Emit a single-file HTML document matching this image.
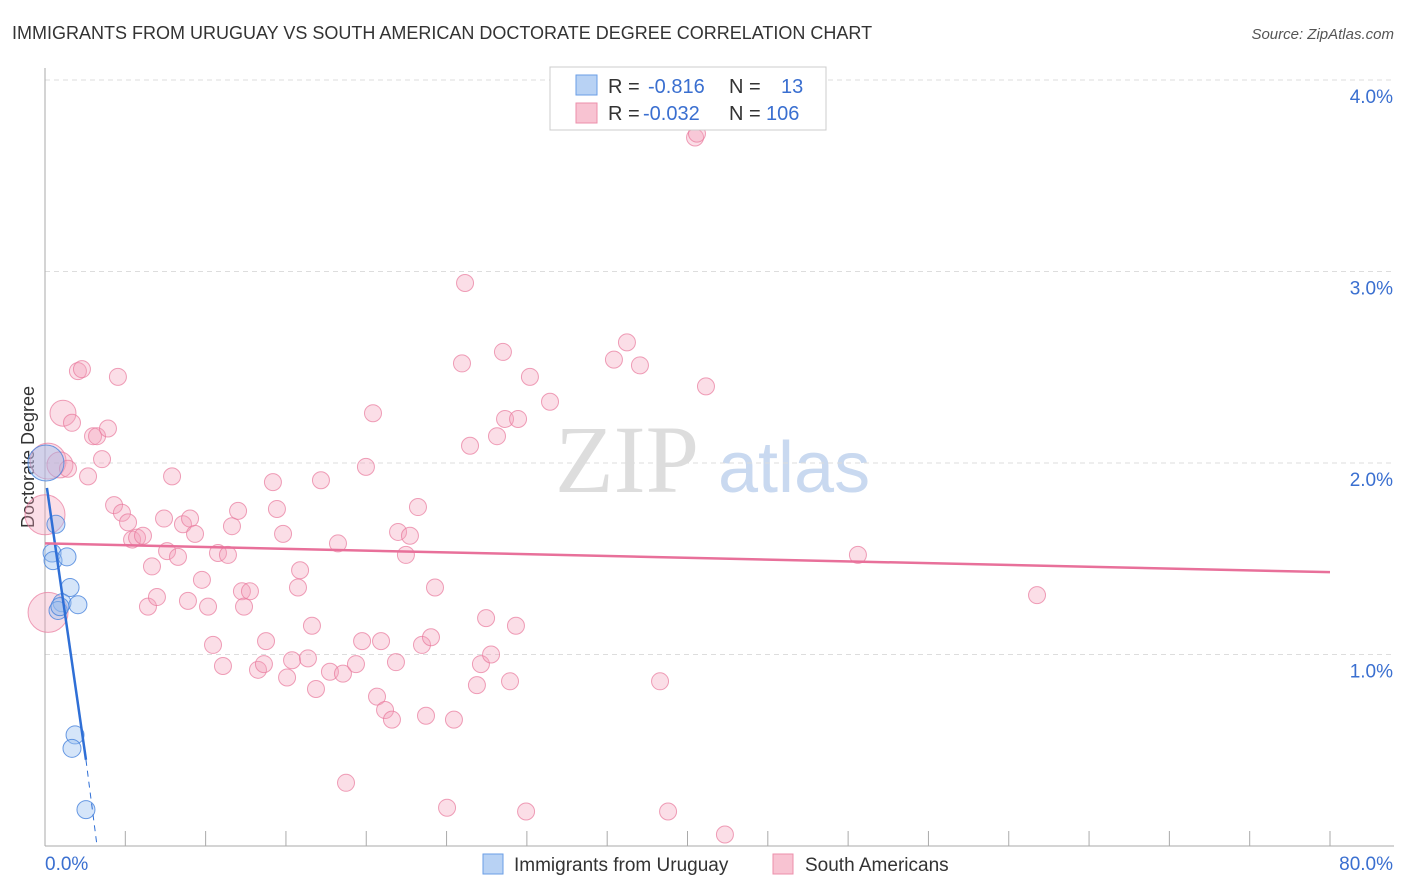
<!DOCTYPE html>
<html><head><meta charset="utf-8"><style>
body{margin:0;background:#fff;font-family:"Liberation Sans",sans-serif;}
#c{position:relative;width:1406px;height:892px;overflow:hidden;}
</style></head><body>
<div id="c">
<svg id="s" width="1406" height="892" xmlns="http://www.w3.org/2000/svg">
<text x="12" y="39" font-size="18" fill="#333">IMMIGRANTS FROM URUGUAY VS SOUTH AMERICAN DOCTORATE DEGREE CORRELATION CHART</text>
<text x="1394" y="39" font-size="15" fill="#555" text-anchor="end" font-style="italic">Source: ZipAtlas.com</text>
<text x="34" y="457" font-size="18" fill="#333" text-anchor="middle" transform="rotate(-90 34 457)">Doctorate Degree</text>
<text x="555" y="492" font-size="96" fill="#ddd" font-family="Liberation Serif,serif">ZIP</text>
<text x="718" y="492" font-size="72" fill="#c9d9f0">atlas</text>
<g id="grid"></g><g id="axes"></g><g id="pink"></g><g id="blue"></g><g id="trend"></g>
<g>
<rect x="550" y="67" width="276" height="63" fill="#fff" stroke="#ccc"/>
<rect x="576" y="75" width="21" height="20" fill="#b8d2f4" stroke="#6a9ee6"/>
<rect x="576" y="103" width="21" height="20" fill="#f8c3d2" stroke="#ec8fab"/>
<text x="608" y="93" font-size="20" fill="#333">R = <tspan fill="#3a6fd0" x="648">-0.816</tspan><tspan x="729" fill="#333">N =</tspan><tspan x="781" fill="#3a6fd0">13</tspan></text>
<text x="608" y="120" font-size="20" fill="#333">R = <tspan fill="#3a6fd0" x="643">-0.032</tspan><tspan x="729" fill="#333">N =</tspan><tspan x="766" fill="#3a6fd0">106</tspan></text>
</g>
<g>
<rect x="483" y="854" width="20" height="20" fill="#b8d2f4" stroke="#6a9ee6"/>
<text x="514" y="871" font-size="19" fill="#333">Immigrants from Uruguay</text>
<rect x="773" y="854" width="20" height="20" fill="#f8c3d2" stroke="#ec8fab"/>
<text x="805" y="871" font-size="19" fill="#333">South Americans</text>
</g>
</svg></div>
<script>
const xTicks=[0,10,20,30,40,50,60,70,80];
const yTicks=[1,2,3,4];
const yTickLabels=["1.0%","2.0%","3.0%","4.0%"];
const xEndLabels=["0.0%","80.0%"];
const blueX=[0.06,0.68,0.44,0.50,1.37,1.56,1.06,0.81,0.93,2.05,1.87,1.68,2.55];
const blueY=[2.00,1.68,1.53,1.49,1.51,1.35,1.27,1.23,1.25,1.26,0.58,0.51,0.19];
const blueR=[18,9,9,9,9,9,9,9,9,9,9,9,9];
const pinkX=[0.19,0.0,0.19,1.12,0.93,1.43,1.68,2.05,2.30,4.54,2.99,3.24,3.92,3.55,2.68,4.30,4.79,5.17,5.42,5.73,6.10,6.66,6.41,6.97,7.41,7.60,7.91,8.28,8.59,9.03,9.34,9.77,8.90,10.15,10.46,10.77,11.39,11.08,11.64,12.02,12.26,12.76,12.39,13.76,13.26,13.63,14.19,14.44,14.82,15.07,15.38,15.88,15.75,16.37,16.62,16.87,17.18,17.74,18.24,18.55,18.74,19.36,19.74,19.98,20.42,20.67,20.92,21.17,21.60,21.85,21.98,22.47,22.72,23.22,23.47,23.72,24.03,24.28,25.03,25.46,25.96,26.15,26.46,26.89,27.14,27.46,27.77,28.14,28.51,28.64,28.95,29.32,29.45,29.95,30.19,31.44,35.42,36.23,37.04,38.29,38.79,41.15,42.33,40.47,40.59,50.61,61.76];
const pinkY=[2.01,1.73,1.22,2.26,1.99,1.97,2.21,2.48,2.49,2.45,2.14,2.14,2.18,2.02,1.93,1.78,1.74,1.69,1.60,1.61,1.62,1.46,1.25,1.30,1.71,1.54,1.93,1.51,1.68,1.71,1.63,1.39,1.28,1.25,1.05,1.53,1.52,0.94,1.67,1.75,1.33,1.33,1.25,1.07,0.92,0.95,1.90,1.76,1.63,0.88,0.97,1.44,1.35,0.98,1.15,0.82,1.91,0.91,1.58,0.90,0.33,0.95,1.07,1.98,2.26,0.78,1.07,0.71,0.66,0.96,1.64,1.52,1.62,1.77,1.05,0.68,1.09,1.35,0.20,0.66,2.52,2.94,2.09,0.84,0.95,1.19,1.00,2.14,2.58,2.23,0.86,1.15,2.23,0.18,2.45,2.32,2.54,2.63,2.51,0.86,0.18,2.40,0.06,3.70,3.72,1.52,1.31];
const pinkBig=[18,20,20,13,13];
const blueTrend=[[0.12,1.87],[2.55,0.45]];
const blueTrendExt=[[2.55,0.45],[3.24,0]];
const pinkTrend=[[0,1.58],[80,1.43]];

const NS="http://www.w3.org/2000/svg";
const X=v=>45+v/80*1285;
const Y=v=>846-v*191.5;
function mk(tag,attrs,parent){const e=document.createElementNS(NS,tag);for(const k in attrs)e.setAttribute(k,attrs[k]);document.getElementById(parent).appendChild(e);return e;}
yTicks.forEach((t,i)=>{
 const l=mk('line',{x1:45,x2:1394,y1:Y(t),y2:Y(t),stroke:'#ddd','stroke-dasharray':'5,4'},'grid');
 
 
 const tx=mk('text',{x:1393,y:Y(t)+23,'font-size':19,fill:'#3a6fd0','text-anchor':'end'},'grid');
 tx.textContent=yTickLabels[i];
 
 
});
const ax=mk('line',{x1:45,x2:45,y1:68,y2:846,stroke:'#aaa'},'axes');


const bx=mk('line',{x1:45,x2:1394,y1:846,y2:846,stroke:'#aaa'},'axes');


xTicks.concat([5,15,25,35,45,55,65,75]).forEach(t=>{
 if(t===0)return;
 const l=mk('line',{x1:X(t),x2:X(t),y1:831,y2:846,stroke:'#aaa'},'axes');
 
 
});
const xl0=mk('text',{x:45,y:870,'font-size':19,fill:'#3a6fd0'},'axes');
xl0.textContent=xEndLabels[0];


const xl1=mk('text',{x:1393,y:870,'font-size':19,fill:'#3a6fd0','text-anchor':'end'},'axes');
xl1.textContent=xEndLabels[1];


pinkX.forEach((v,i)=>{
 const c=mk('circle',{cx:X(v),cy:Y(pinkY[i]),r:pinkBig[i]||8.5,fill:'rgba(244,160,185,0.35)',stroke:'rgba(232,120,155,0.7)','stroke-width':1},'pink');
 
 
});
blueX.forEach((v,i)=>{
 const c=mk('circle',{cx:X(v),cy:Y(blueY[i]),r:blueR[i],fill:'rgba(150,190,240,0.4)',stroke:'rgba(70,130,220,0.8)','stroke-width':1},'blue');
 
 
});
const bt=mk('line',{x1:X(blueTrend[0][0]),y1:Y(blueTrend[0][1]),x2:X(blueTrend[1][0]),y2:Y(blueTrend[1][1]),stroke:'#2f6fd6','stroke-width':2.5},'trend');


const be=mk('line',{x1:X(blueTrendExt[0][0]),y1:Y(blueTrendExt[0][1]),x2:X(blueTrendExt[1][0]),y2:Y(blueTrendExt[1][1]),stroke:'#2f6fd6','stroke-width':1,'stroke-dasharray':'6,5'},'trend');


const pt=mk('line',{x1:X(pinkTrend[0][0]),y1:Y(pinkTrend[0][1]),x2:X(pinkTrend[1][0]),y2:Y(pinkTrend[1][1]),stroke:'#e8709a','stroke-width':2.5},'trend');


</script>
</body></html>
